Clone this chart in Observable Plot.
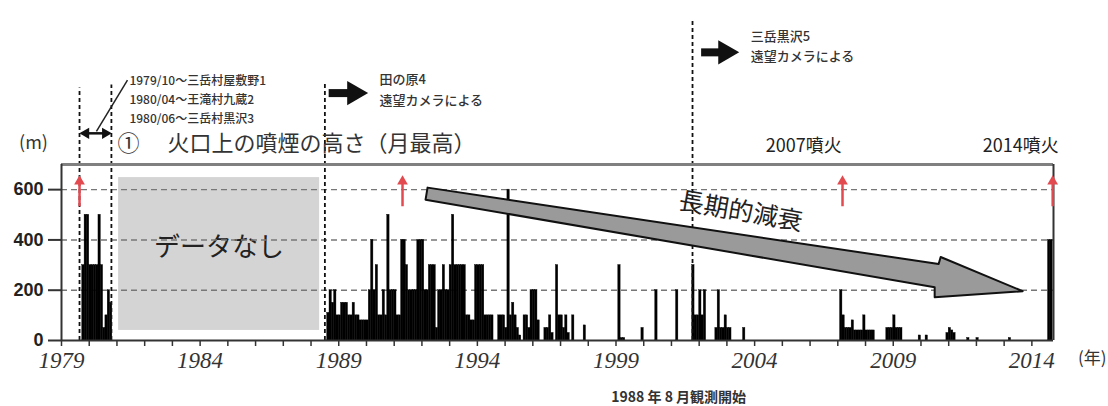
<!DOCTYPE html>
<html><head><meta charset="utf-8">
<script src="https://cdn.jsdelivr.net/npm/d3@7"></script>
<script src="https://cdn.jsdelivr.net/npm/@observablehq/plot@0.6"></script>
<style>body{margin:0;background:#fff}#chart svg{display:block}</style>
</head><body><div id="chart"></div>
<script>
// ---- data (monthly maximum plume height above the crater, m) ----
const earlyStart = [1979, 10];
const earlyHeights = [300,500,500,300,300,300,300,500,300,50,100,200,150];
const mainStart = [1988, 8];
const mainHeights = [
  110,200,150,200,100,100,150,150,150,100,100,150,
  100,100,80,80,80,80,200,400,200,300,100,100,
  200,100,500,200,200,200,100,100,400,400,300,200,
  200,200,200,400,400,400,200,200,300,300,300,50,
  200,200,300,200,200,300,500,300,300,300,300,300,
  100,100,80,80,300,300,300,300,100,100,100,100,
  0,0,100,100,100,50,600,100,150,100,50,20,
  0,100,100,50,200,200,200,80,0,0,50,50,
  100,30,0,300,100,100,50,100,30,0,100,0,
  0,0,0,60,0,0,0,0,0,0,0,0,
  0,0,0,0,0,0,300,10,10,0,0,0,
  0,0,0,0,50,0,0,0,0,0,200,0,
  0,0,0,0,0,0,0,200,0,0,0,0,
  0,0,300,100,100,200,100,200,0,0,0,0,
  50,200,50,50,100,50,50,0,0,0,0,0,
  50,0,0,0,0,0,0,0,0,0,0,0,
  0,0,0,0,0,0,0,0,0,0,0,0,
  0,0,0,0,0,0,0,0,0,0,0,0,
  0,0,0,0,0,0,200,100,50,50,50,80,
  40,40,40,40,100,40,40,40,40,0,0,0,
  0,0,50,50,50,100,50,50,50,0,0,0,
  0,0,0,0,20,0,0,20,0,0,0,0,
  0,0,0,0,30,50,40,30,0,0,0,0,
  0,10,0,0,0,10,0,0,0,0,0,0,
  0,0,0,0,0,0,0,10,0,0,0,0,
  0,0,0,0,0,0,0,0,0,0,0,0,
  400,400
];
const yTicks = [0, 200, 400, 600];
const xMinorTicks = d3.range(1979, 2015);
const xTickLabels = [1979, 1984, 1989, 1994, 1999, 2004, 2009, 2014];
const eruptionMarks = [1979.65, 1991.3, 2007.17, 2014.75];
const eruptionLabels = [{t: "2007噴火", x: 2005.77}, {t: "2014噴火", x: 2013.6}];
const changeLines = [{x: 1979.65, top: 1004}, {x: 1980.8, top: 1016}, {x: 1988.5, top: 1024}, {x: 2001.76, top: 1280}];
const stationNotes = ["1979/10〜三岳村屋敷野1", "1980/04〜王滝村九蔵2", "1980/06〜三岳村黒沢3"];
const cameraNotes1 = ["田の原4", "遠望カメラによる"];
const cameraNotes2 = ["三岳黒沢5", "遠望カメラによる"];
const noDataSpan = [1981.06, 1988.31];
const noDataLabel = "データなし";
const titleNo = "①";
const titleText = "火口上の噴煙の高さ（月最高）";
const trendLabel = "長期的減衰";
const startNote = "1988 年 8 月観測開始";
const trendArrow = [[1992.203,608],[2010.638,304],[2010.71,332],[2013.668,196],[2010.494,172],[2010.494,212],[1992.131,560]];

// ---- build monthly bars ----
const bars = [];
function addSeries(start, heights) {
  heights.forEach((h, k) => {
    const x1 = start[0] + (start[1] - 1 + k) / 12;
    bars.push({x1, x2: x1 + 1 / 12, h});
  });
}
addSeries(earlyStart, earlyHeights);
addSeries(mainStart, mainHeights);

const XMAX = 2014.78;
const JP = "Noto Sans CJK JP";
const RED = "#e34a50";

const chart = Plot.plot({
  width: 1108, height: 406,
  marginTop: 164, marginBottom: 66, marginLeft: 61, marginRight: 55,
  x: {domain: [1979, XMAX]},
  y: {domain: [0, 700]},
  style: {fontFamily: JP, color: "#222", background: "#fff", overflow: "visible"},
  marks: [
    // no-data box
    Plot.rect([noDataSpan], {x1: d => d[0], x2: d => d[1], y1: 40, y2: 648, fill: "#d4d4d4"}),
    Plot.text([noDataLabel], {x: (noDataSpan[0] + noDataSpan[1]) / 2, y: 368, text: d => d, fontSize: 26, fill: "#222"}),
    // grid
    Plot.ruleY(yTicks.filter(d => d > 0), {x1: 1979, x2: XMAX, stroke: "#777", strokeWidth: 1.4, strokeDasharray: "6,4"}),
    // bars
    Plot.rect(bars.filter(d => d.h > 0), {x1: "x1", x2: "x2", y1: 0, y2: "h", fill: "#000", stroke: "#000", strokeWidth: 0.4}),
    // change-of-station lines
    Plot.ruleX(changeLines, {x: "x", y1: 0, y2: "top", stroke: "#111", strokeWidth: 1.8, strokeDasharray: "4,3"}),
    // frame
    Plot.ruleY([700], {x1: 1979, x2: XMAX, stroke: "#808080", strokeWidth: 3}),
    Plot.ruleX([1979, XMAX], {y1: 0, y2: 700, stroke: "#333", strokeWidth: 2}),
    // axes
    Plot.axisY({ticks: yTicks, tickSize: 13, tickPadding: 5, fontSize: 18, fontWeight: "bold", fontFamily: "Liberation Sans", label: null, stroke: "#333", strokeWidth: 2}),
    Plot.ruleY([0], {x1: 1979, x2: XMAX, stroke: "#333", strokeWidth: 2}),
    Plot.axisX({ticks: xMinorTicks, tickSize: 6, tickFormat: () => "", label: null, stroke: "#333", strokeWidth: 1.5}),
    Plot.axisX({ticks: xTickLabels, tickSize: 0, tickPadding: 11, tickFormat: d => String(d), fontSize: 23, fontStyle: "italic", fontFamily: "Liberation Serif", label: null, fill: "#333"}),
    Plot.text(["(年)"], {x: 2016.18, y: -72, text: d => d, fontSize: 17, fill: "#333"}),
    Plot.text([startNote], {x: 2001.26, y: -228, text: d => d, fontSize: 14, fontWeight: "bold", fill: "#333"}),
    // trend arrow
    Plot.line(trendArrow, {x: d => d[0], y: d => d[1], curve: "linear-closed", fill: "#9a9a9a", stroke: "#111", strokeWidth: 2}),
    Plot.text([trendLabel], {x: 2003.5, y: 512, text: d => d, fontSize: 25, rotate: 10, fill: "#222"}),
    // titles
    Plot.text(["(m)"], {x: 1977.99, y: 784, text: d => d, fontSize: 18, fill: "#333"}),
    Plot.text([titleNo], {x: 1981.42, y: 780, text: d => d, fontSize: 22, fill: "#333"}),
    Plot.text([titleText], {x: 1982.82, y: 780, text: d => d, fontSize: 22, textAnchor: "start", fill: "#333"}),
    Plot.text(eruptionLabels, {x: "x", y: 772, text: "t", fontSize: 18, fill: "#222"}),
    // eruption arrows (red)
    Plot.ruleX(eruptionMarks, {y1: 532, y2: 640, stroke: RED, strokeWidth: 2.5}),
    Plot.dot(eruptionMarks, {x: d => d, y: 633, symbol: "triangle", r: 4, fill: RED, stroke: "none"}),
    // station notes
    Plot.text(stationNotes, {x: 1981.45, y: (d, i) => 1032 - i * 76, text: d => d, fontSize: 12, fontWeight: 500, textAnchor: "start", fill: "#333"}),
    Plot.link([0], {x1: 1981.38, y1: 1036, x2: 1980.26, y2: 832, stroke: "#222", strokeWidth: 1.5}),
    Plot.ruleY([824], {x1: 1979.75, x2: 1980.7, stroke: "#111", strokeWidth: 2.5}),
    Plot.dot([{x: 1979.88, r: -90}, {x: 1980.58, r: 90}], {x: "x", y: 824, rotate: "r", symbol: "triangle", r: 4.2, fill: "#111", stroke: "none"}),
    // camera notes with block arrows
    Plot.ruleY([984], {x1: 1988.654, x2: 1989.45, stroke: "#111", strokeWidth: 8}),
    Plot.dot([0], {x: 1989.556, y: 984, rotate: 90, symbol: "triangle", r: 9, fill: "#111", stroke: "none"}),
    Plot.text(cameraNotes1, {x: 1990.47, y: (d, i) => 1036 - i * 84, text: d => d, fontSize: 13, fontWeight: 500, textAnchor: "start", fill: "#333"}),
    Plot.ruleY([1146], {x1: 2002.088, x2: 2002.85, stroke: "#111", strokeWidth: 8}),
    Plot.dot([0], {x: 2002.94, y: 1146, rotate: 90, symbol: "triangle", r: 9, fill: "#111", stroke: "none"}),
    Plot.text(cameraNotes2, {x: 2003.86, y: (d, i) => 1208 - i * 80, text: d => d, fontSize: 13, fontWeight: 500, textAnchor: "start", fill: "#333"})
  ]
});
document.getElementById("chart").append(chart);
</script>
</body></html>
